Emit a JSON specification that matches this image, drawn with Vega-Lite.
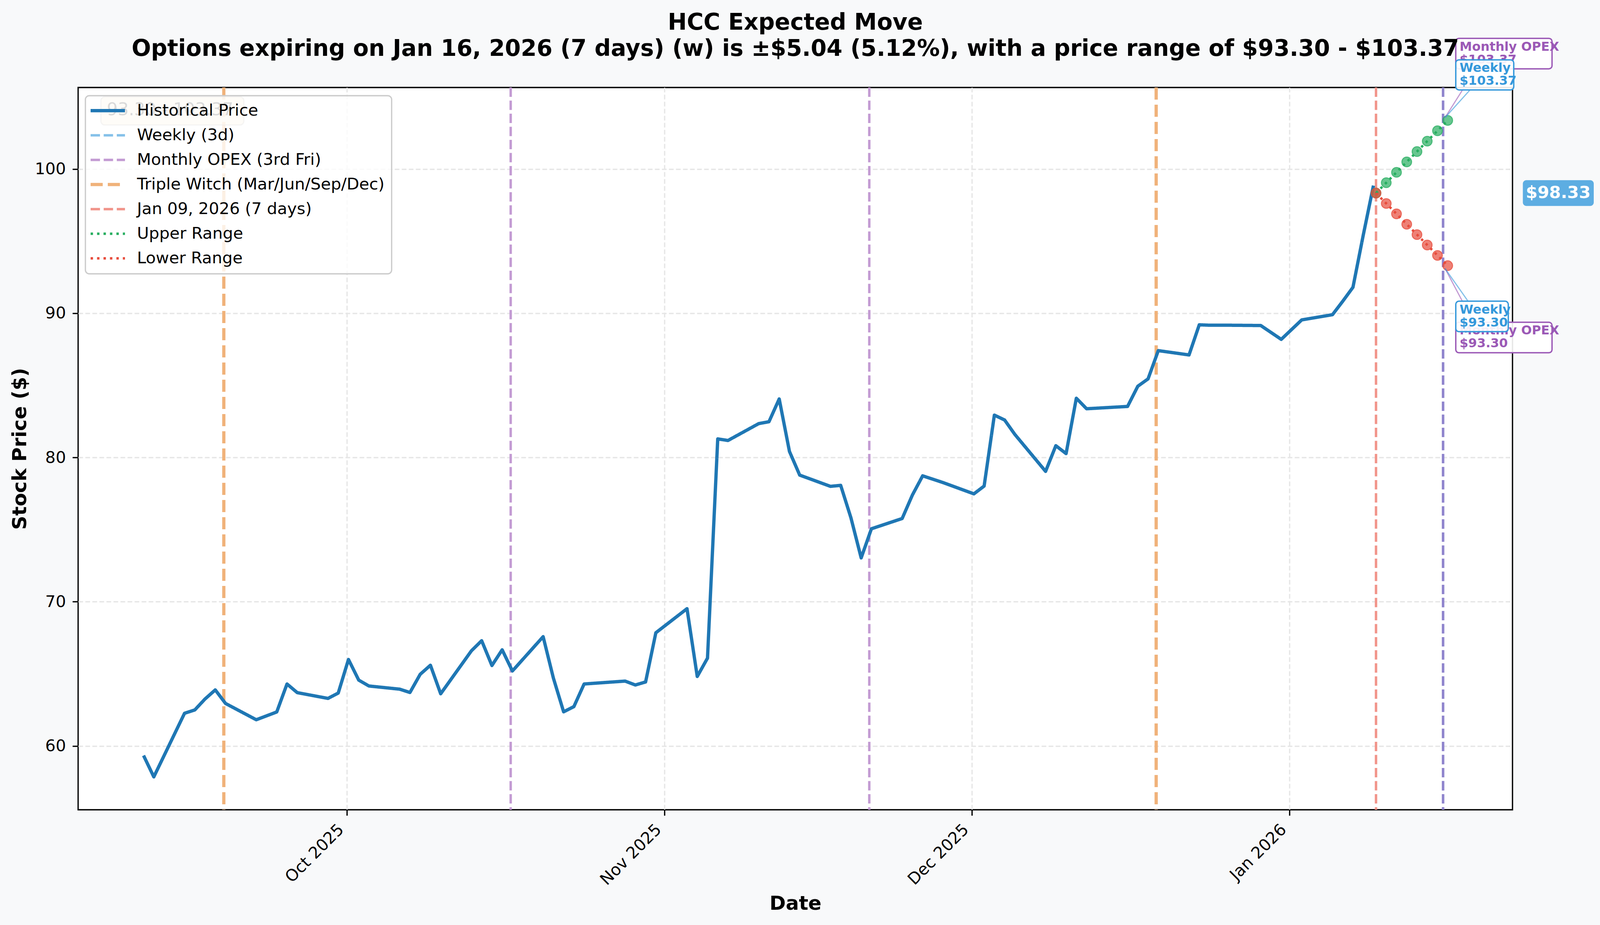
{
  "$schema": "https://vega.github.io/schema/vega-lite/v6.json",
  "width": 3672,
  "height": 1849,
  "autosize": {"type": "none"},
  "padding": {"left": 200, "top": 224, "right": 301, "bottom": 295},
  "background": "#f8f9fa",
  "title": {
    "text": [
      "HCC Expected Move",
      "Options expiring on Jan 16, 2026 (7 days) (w) is ±$5.04 (5.12%), with a price range of $93.30 - $103.37"
    ],
    "font": "DejaVu Sans",
    "fontSize": 58.3,
    "fontWeight": "bold",
    "color": "black",
    "anchor": "middle",
    "frame": "group",
    "lineHeight": 67,
    "baseline": "alphabetic",
    "offset": -105
  },
  "config": {
    "font": "DejaVu Sans",
    "view": {"fill": "white", "stroke": "black", "strokeWidth": 3.3},
    "axis": {
      "labelFont": "DejaVu Sans",
      "labelFontSize": 41.7,
      "labelColor": "black",
      "labelLimit": 1000,
      "tickSize": 14.6,
      "tickWidth": 3.3,
      "tickColor": "black",
      "domain": false,
      "grid": true,
      "gridDash": [12, 6],
      "gridColor": "#e6e6e6",
      "gridWidth": 3.3,
      "titleFont": "DejaVu Sans",
      "titleFontSize": 50,
      "titleFontWeight": "bold",
      "titleColor": "black",
      "labelFlush": false,
      "labelOverlap": false
    },
    "legend": {
      "orient": "none",
      "legendX": 18.6,
      "legendY": 21,
      "fillColor": "rgba(255,255,255,0.8)",
      "strokeColor": "#cccccc",
      "strokeWidth": 3.3,
      "cornerRadius": 10,
      "padding": 17.5,
      "symbolType": "M-2,0H2",
      "symbolSize": 1936,
      "symbolStrokeWidth": 6.2,
      "symbolOffset": 19,
      "symbolOpacity": 1,
      "symbolFillColor": "transparent",
      "labelFont": "DejaVu Sans",
      "labelFontSize": 41.7,
      "labelColor": "black",
      "labelOffset": 54,
      "labelLimit": 2000,
      "rowPadding": 20
    }
  },
  "datasets": {
    "prices": [
      {"date": "2025-09-11T04:00:00Z", "price": 59.34},
      {"date": "2025-09-12T04:00:00Z", "price": 57.86},
      {"date": "2025-09-15T04:00:00Z", "price": 62.27},
      {"date": "2025-09-16T04:00:00Z", "price": 62.5},
      {"date": "2025-09-17T04:00:00Z", "price": 63.26},
      {"date": "2025-09-18T04:00:00Z", "price": 63.89},
      {"date": "2025-09-19T04:00:00Z", "price": 62.95},
      {"date": "2025-09-22T04:00:00Z", "price": 61.82},
      {"date": "2025-09-23T04:00:00Z", "price": 62.09},
      {"date": "2025-09-24T04:00:00Z", "price": 62.36},
      {"date": "2025-09-25T04:00:00Z", "price": 64.3},
      {"date": "2025-09-26T04:00:00Z", "price": 63.7},
      {"date": "2025-09-29T04:00:00Z", "price": 63.3},
      {"date": "2025-09-30T04:00:00Z", "price": 63.67},
      {"date": "2025-10-01T04:00:00Z", "price": 66.0},
      {"date": "2025-10-02T04:00:00Z", "price": 64.57},
      {"date": "2025-10-03T04:00:00Z", "price": 64.16},
      {"date": "2025-10-06T04:00:00Z", "price": 63.94},
      {"date": "2025-10-07T04:00:00Z", "price": 63.71},
      {"date": "2025-10-08T04:00:00Z", "price": 64.97},
      {"date": "2025-10-09T04:00:00Z", "price": 65.6},
      {"date": "2025-10-10T04:00:00Z", "price": 63.62},
      {"date": "2025-10-13T04:00:00Z", "price": 66.6},
      {"date": "2025-10-14T04:00:00Z", "price": 67.3},
      {"date": "2025-10-15T04:00:00Z", "price": 65.58},
      {"date": "2025-10-16T04:00:00Z", "price": 66.67},
      {"date": "2025-10-17T04:00:00Z", "price": 65.2},
      {"date": "2025-10-20T04:00:00Z", "price": 67.58},
      {"date": "2025-10-21T04:00:00Z", "price": 64.71},
      {"date": "2025-10-22T04:00:00Z", "price": 62.37},
      {"date": "2025-10-23T04:00:00Z", "price": 62.73},
      {"date": "2025-10-24T04:00:00Z", "price": 64.3},
      {"date": "2025-10-28T04:00:00Z", "price": 64.5},
      {"date": "2025-10-29T04:00:00Z", "price": 64.23},
      {"date": "2025-10-30T04:00:00Z", "price": 64.44},
      {"date": "2025-10-31T04:00:00Z", "price": 67.85},
      {"date": "2025-11-03T05:00:00Z", "price": 69.52},
      {"date": "2025-11-04T05:00:00Z", "price": 64.82},
      {"date": "2025-11-05T05:00:00Z", "price": 66.09},
      {"date": "2025-11-06T05:00:00Z", "price": 81.29},
      {"date": "2025-11-07T05:00:00Z", "price": 81.18},
      {"date": "2025-11-10T05:00:00Z", "price": 82.35},
      {"date": "2025-11-11T05:00:00Z", "price": 82.48},
      {"date": "2025-11-12T05:00:00Z", "price": 84.06},
      {"date": "2025-11-13T05:00:00Z", "price": 80.42},
      {"date": "2025-11-14T05:00:00Z", "price": 78.78},
      {"date": "2025-11-17T05:00:00Z", "price": 78.0},
      {"date": "2025-11-18T05:00:00Z", "price": 78.07},
      {"date": "2025-11-19T05:00:00Z", "price": 75.82},
      {"date": "2025-11-20T05:00:00Z", "price": 73.04},
      {"date": "2025-11-21T05:00:00Z", "price": 75.06},
      {"date": "2025-11-24T05:00:00Z", "price": 75.77},
      {"date": "2025-11-25T05:00:00Z", "price": 77.4},
      {"date": "2025-11-26T05:00:00Z", "price": 78.73},
      {"date": "2025-11-28T05:00:00Z", "price": 78.26},
      {"date": "2025-12-01T05:00:00Z", "price": 77.48},
      {"date": "2025-12-02T05:00:00Z", "price": 78.02},
      {"date": "2025-12-03T05:00:00Z", "price": 82.94},
      {"date": "2025-12-04T05:00:00Z", "price": 82.6},
      {"date": "2025-12-05T05:00:00Z", "price": 81.6},
      {"date": "2025-12-08T05:00:00Z", "price": 79.04},
      {"date": "2025-12-09T05:00:00Z", "price": 80.82},
      {"date": "2025-12-10T05:00:00Z", "price": 80.27},
      {"date": "2025-12-11T05:00:00Z", "price": 84.11},
      {"date": "2025-12-12T05:00:00Z", "price": 83.38},
      {"date": "2025-12-16T05:00:00Z", "price": 83.54},
      {"date": "2025-12-17T05:00:00Z", "price": 84.94},
      {"date": "2025-12-18T05:00:00Z", "price": 85.45},
      {"date": "2025-12-19T05:00:00Z", "price": 87.41},
      {"date": "2025-12-22T05:00:00Z", "price": 87.11},
      {"date": "2025-12-23T05:00:00Z", "price": 89.2},
      {"date": "2025-12-24T05:00:00Z", "price": 89.17},
      {"date": "2025-12-26T05:00:00Z", "price": 89.17},
      {"date": "2025-12-29T05:00:00Z", "price": 89.15},
      {"date": "2025-12-31T05:00:00Z", "price": 88.19},
      {"date": "2026-01-02T05:00:00Z", "price": 89.54},
      {"date": "2026-01-05T05:00:00Z", "price": 89.9},
      {"date": "2026-01-06T05:00:00Z", "price": 90.83},
      {"date": "2026-01-07T05:00:00Z", "price": 91.8},
      {"date": "2026-01-08T05:00:00Z", "price": 95.4},
      {"date": "2026-01-09T05:00:00Z", "price": 98.85}
    ],
    "events": [
      {"date": "2025-09-19T00:00:00Z", "series": "Triple Witch (Mar/Jun/Sep/Dec)"},
      {"date": "2025-10-17T00:00:00Z", "series": "Monthly OPEX (3rd Fri)"},
      {"date": "2025-11-21T00:00:00Z", "series": "Monthly OPEX (3rd Fri)"},
      {"date": "2025-12-19T00:00:00Z", "series": "Triple Witch (Mar/Jun/Sep/Dec)"},
      {"date": "2026-01-09T11:00:00Z", "series": "Jan 09, 2026 (7 days)"},
      {"date": "2026-01-16T00:00:00Z", "series": "Weekly (3d)"},
      {"date": "2026-01-16T00:00:00Z", "series": "Monthly OPEX (3rd Fri)"}
    ],
    "range": [
      {"date": "2026-01-09T11:00:00Z", "price": 98.33, "series": "Upper Range"},
      {"date": "2026-01-10T11:00:00Z", "price": 99.05, "series": "Upper Range"},
      {"date": "2026-01-11T11:00:00Z", "price": 99.77, "series": "Upper Range"},
      {"date": "2026-01-12T11:00:00Z", "price": 100.49, "series": "Upper Range"},
      {"date": "2026-01-13T11:00:00Z", "price": 101.21, "series": "Upper Range"},
      {"date": "2026-01-14T11:00:00Z", "price": 101.93, "series": "Upper Range"},
      {"date": "2026-01-15T11:00:00Z", "price": 102.65, "series": "Upper Range"},
      {"date": "2026-01-16T11:00:00Z", "price": 103.37, "series": "Upper Range"},
      {"date": "2026-01-09T11:00:00Z", "price": 98.33, "series": "Lower Range"},
      {"date": "2026-01-10T11:00:00Z", "price": 97.61, "series": "Lower Range"},
      {"date": "2026-01-11T11:00:00Z", "price": 96.89, "series": "Lower Range"},
      {"date": "2026-01-12T11:00:00Z", "price": 96.17, "series": "Lower Range"},
      {"date": "2026-01-13T11:00:00Z", "price": 95.45, "series": "Lower Range"},
      {"date": "2026-01-14T11:00:00Z", "price": 94.73, "series": "Lower Range"},
      {"date": "2026-01-15T11:00:00Z", "price": 94.01, "series": "Lower Range"},
      {"date": "2026-01-16T11:00:00Z", "price": 93.3, "series": "Lower Range"}
    ],
    "notes": [
      {"date": "2026-01-16T11:00:00Z", "price": 103.37, "kind": "Monthly OPEX", "side": "upper", "label": "Monthly OPEX\n$103.37"},
      {"date": "2026-01-16T11:00:00Z", "price": 103.37, "kind": "Weekly", "side": "upper", "label": "Weekly\n$103.37"},
      {"date": "2026-01-16T11:00:00Z", "price": 93.3, "kind": "Monthly OPEX", "side": "lower", "label": "Monthly OPEX\n$93.30"},
      {"date": "2026-01-16T11:00:00Z", "price": 93.3, "kind": "Weekly", "side": "lower", "label": "Weekly\n$93.30"}
    ]
  },
  "layer": [
    {
      "data": {"name": "events"},
      "mark": {"type": "rule"},
      "encoding": {
        "x": {"field": "date", "type": "temporal"},
        "color": {
          "field": "series",
          "type": "nominal",
          "scale": {
            "domain": ["Historical Price", "Weekly (3d)", "Monthly OPEX (3rd Fri)", "Triple Witch (Mar/Jun/Sep/Dec)", "Jan 09, 2026 (7 days)", "Upper Range", "Lower Range"],
            "range": ["#1f77b4", "#85c1e9", "#c39bd3", "#f0b27a", "#f1948a", "#27ae60", "#e74c3c"]
          },
          "legend": {
            "title": null,
            "encode": {
              "symbols": {
                "update": {
                  "strokeWidth": {"signal": "datum.value === 'Historical Price' ? 8.5 : datum.value === 'Triple Witch (Mar/Jun/Sep/Dec)' ? 8.3 : 6.2"}
                }
              }
            }
          }
        },
        "strokeDash": {
          "field": "series",
          "type": "nominal",
          "scale": {
            "domain": ["Historical Price", "Weekly (3d)", "Monthly OPEX (3rd Fri)", "Triple Witch (Mar/Jun/Sep/Dec)", "Jan 09, 2026 (7 days)", "Upper Range", "Lower Range"],
            "range": [[1, 0], [24, 9.5], [24, 9.5], [31, 13], [24, 9.5], [6.2, 10.3], [6.2, 10.3]]
          },
          "legend": {
            "title": null,
            "encode": {
              "symbols": {
                "update": {
                  "strokeWidth": {"signal": "datum.value === 'Historical Price' ? 8.5 : datum.value === 'Triple Witch (Mar/Jun/Sep/Dec)' ? 8.3 : 6.2"}
                }
              }
            }
          }
        },
        "strokeWidth": {
          "condition": {"test": "datum.series === 'Triple Witch (Mar/Jun/Sep/Dec)'", "value": 8.3},
          "value": 6.2
        }
      }
    },
    {
      "data": {"name": "events"},
      "transform": [{"filter": "datum.series === 'Weekly (3d)'"}],
      "mark": {"type": "rule", "color": "#9085cd", "strokeWidth": 6.2, "strokeDash": [24, 9.5]},
      "encoding": {
        "x": {"field": "date", "type": "temporal"}
      }
    },
    {
      "mark": {"type": "rule", "color": "#687585", "strokeWidth": 6.3, "strokeDash": [22, 10.5]},
      "encoding": {
        "y": {"datum": 98.33, "type": "quantitative"}
      }
    },
    {
      "data": {"name": "prices"},
      "mark": {"type": "line", "strokeWidth": 8.5, "strokeJoin": "round"},
      "encoding": {
        "x": {
          "field": "date",
          "type": "temporal",
          "title": "Date",
          "scale": {
            "type": "utc",
            "domain": [
              {"year": 2025, "month": 9, "date": 4, "hours": 18, "minutes": 43, "utc": true},
              {"year": 2026, "month": 1, "date": 22, "hours": 18, "minutes": 43, "utc": true}
            ]
          },
          "axis": {
            "values": [
              {"year": 2025, "month": 10, "date": 1, "utc": true},
              {"year": 2025, "month": 11, "date": 1, "utc": true},
              {"year": 2025, "month": 12, "date": 1, "utc": true},
              {"year": 2026, "month": 1, "date": 1, "utc": true}
            ],
            "labelExpr": "utcFormat(datum.value, '%b %Y')",
            "labelAngle": -45,
            "labelAlign": "right",
            "labelBaseline": "middle",
            "labelPadding": 29,
            "labelOffset": -15,
            "titleY": 255,
            "titleBaseline": "alphabetic"
          }
        },
        "y": {
          "field": "price",
          "type": "quantitative",
          "title": "Stock Price ($)",
          "scale": {"domain": [55.58, 105.65], "nice": false, "zero": false},
          "axis": {
            "values": [60, 70, 80, 90, 100],
            "labelPadding": 17,
            "titleX": -133.5,
            "titleBaseline": "alphabetic"
          }
        },
        "color": {"datum": "Historical Price", "type": "nominal"},
        "strokeDash": {"datum": "Historical Price", "type": "nominal"}
      }
    },
    {
      "data": {"name": "range"},
      "mark": {"type": "point", "filled": true, "size": 620, "fillOpacity": 0.7, "strokeOpacity": 0.75, "strokeWidth": 2.5},
      "encoding": {
        "x": {"field": "date", "type": "temporal"},
        "y": {"field": "price", "type": "quantitative"},
        "color": {
          "condition": {"test": "datum.series === 'Upper Range'", "value": "#27ae60"},
          "value": "#e74c3c"
        },
        "stroke": {
          "condition": {"test": "datum.series === 'Upper Range'", "value": "#27ae60"},
          "value": "#e74c3c"
        }
      }
    },
    {
      "data": {"name": "range"},
      "mark": {"type": "line", "strokeWidth": 6.2},
      "encoding": {
        "x": {"field": "date", "type": "temporal"},
        "y": {"field": "price", "type": "quantitative"},
        "color": {"field": "series", "type": "nominal"},
        "strokeDash": {"field": "series", "type": "nominal"}
      }
    },
    {
      "data": {"name": "notes"},
      "transform": [{"filter": "datum.side === 'upper' && datum.kind === 'Monthly OPEX'"}],
      "mark": {"type": "rule", "color": "#9b59b6", "opacity": 0.6, "strokeWidth": 3, "xOffset": -7, "yOffset": -7, "x2Offset": 72, "y2Offset": -132},
      "encoding": {
        "x": {"field": "date", "type": "temporal"},
        "x2": {"field": "date"},
        "y": {"field": "price", "type": "quantitative"},
        "y2": {"field": "price"}
      }
    },
    {
      "data": {"name": "notes"},
      "transform": [{"filter": "datum.side === 'upper' && datum.kind === 'Weekly'"}],
      "mark": {"type": "rule", "color": "#3498db", "opacity": 0.6, "strokeWidth": 3, "xOffset": -7, "yOffset": -7, "x2Offset": 57, "y2Offset": -78},
      "encoding": {
        "x": {"field": "date", "type": "temporal"},
        "x2": {"field": "date"},
        "y": {"field": "price", "type": "quantitative"},
        "y2": {"field": "price"}
      }
    },
    {
      "data": {"name": "notes"},
      "transform": [{"filter": "datum.side === 'lower' && datum.kind === 'Monthly OPEX'"}],
      "mark": {"type": "rule", "color": "#9b59b6", "opacity": 0.6, "strokeWidth": 3, "xOffset": -7, "yOffset": 7, "x2Offset": 66, "y2Offset": 145},
      "encoding": {
        "x": {"field": "date", "type": "temporal"},
        "x2": {"field": "date"},
        "y": {"field": "price", "type": "quantitative"},
        "y2": {"field": "price"}
      }
    },
    {
      "data": {"name": "notes"},
      "transform": [{"filter": "datum.side === 'lower' && datum.kind === 'Weekly'"}],
      "mark": {"type": "rule", "color": "#3498db", "opacity": 0.6, "strokeWidth": 3, "xOffset": -7, "yOffset": 7, "x2Offset": 52, "y2Offset": 91},
      "encoding": {
        "x": {"field": "date", "type": "temporal"},
        "x2": {"field": "date"},
        "y": {"field": "price", "type": "quantitative"},
        "y2": {"field": "price"}
      }
    },
    {
      "data": {"name": "notes"},
      "transform": [{"filter": "datum.side === 'upper' && datum.kind === 'Monthly OPEX'"}],
      "mark": {"type": "rect", "fill": "white", "fillOpacity": 0.9, "stroke": "#9b59b6", "strokeWidth": 3.5, "cornerRadius": 8, "xOffset": 20.6, "x2Offset": 267, "yOffset": -210, "y2Offset": -132},
      "encoding": {
        "x": {"field": "date", "type": "temporal"},
        "x2": {"field": "date"},
        "y": {"field": "price", "type": "quantitative"},
        "y2": {"field": "price"}
      }
    },
    {
      "data": {"name": "notes"},
      "transform": [{"filter": "datum.side === 'upper' && datum.kind === 'Monthly OPEX'"}],
      "mark": {"type": "text", "align": "left", "baseline": "middle", "font": "DejaVu Sans", "fontWeight": "bold", "fontSize": 32, "lineHeight": 33, "lineBreak": "\n", "color": "#9b59b6", "dx": 30.4, "dy": -188},
      "encoding": {
        "x": {"field": "date", "type": "temporal"},
        "y": {"field": "price", "type": "quantitative"},
        "text": {"field": "label"}
      }
    },
    {
      "data": {"name": "notes"},
      "transform": [{"filter": "datum.side === 'upper' && datum.kind === 'Weekly'"}],
      "mark": {"type": "rect", "fill": "white", "fillOpacity": 0.9, "stroke": "#3498db", "strokeWidth": 3.5, "cornerRadius": 8, "xOffset": 20.6, "x2Offset": 169, "yOffset": -155, "y2Offset": -78},
      "encoding": {
        "x": {"field": "date", "type": "temporal"},
        "x2": {"field": "date"},
        "y": {"field": "price", "type": "quantitative"},
        "y2": {"field": "price"}
      }
    },
    {
      "data": {"name": "notes"},
      "transform": [{"filter": "datum.side === 'upper' && datum.kind === 'Weekly'"}],
      "mark": {"type": "text", "align": "left", "baseline": "middle", "font": "DejaVu Sans", "fontWeight": "bold", "fontSize": 32, "lineHeight": 33, "lineBreak": "\n", "color": "#3498db", "dx": 30.4, "dy": -134},
      "encoding": {
        "x": {"field": "date", "type": "temporal"},
        "y": {"field": "price", "type": "quantitative"},
        "text": {"field": "label"}
      }
    },
    {
      "data": {"name": "notes"},
      "transform": [{"filter": "datum.side === 'lower' && datum.kind === 'Monthly OPEX'"}],
      "mark": {"type": "rect", "fill": "white", "fillOpacity": 0.9, "stroke": "#9b59b6", "strokeWidth": 3.5, "cornerRadius": 8, "xOffset": 20.6, "x2Offset": 267, "yOffset": 145, "y2Offset": 223},
      "encoding": {
        "x": {"field": "date", "type": "temporal"},
        "x2": {"field": "date"},
        "y": {"field": "price", "type": "quantitative"},
        "y2": {"field": "price"}
      }
    },
    {
      "data": {"name": "notes"},
      "transform": [{"filter": "datum.side === 'lower' && datum.kind === 'Monthly OPEX'"}],
      "mark": {"type": "text", "align": "left", "baseline": "middle", "font": "DejaVu Sans", "fontWeight": "bold", "fontSize": 32, "lineHeight": 33, "lineBreak": "\n", "color": "#9b59b6", "dx": 30.4, "dy": 165.5},
      "encoding": {
        "x": {"field": "date", "type": "temporal"},
        "y": {"field": "price", "type": "quantitative"},
        "text": {"field": "label"}
      }
    },
    {
      "data": {"name": "notes"},
      "transform": [{"filter": "datum.side === 'lower' && datum.kind === 'Weekly'"}],
      "mark": {"type": "rect", "fill": "white", "fillOpacity": 0.9, "stroke": "#3498db", "strokeWidth": 3.5, "cornerRadius": 8, "xOffset": 20.6, "x2Offset": 155, "yOffset": 91, "y2Offset": 169},
      "encoding": {
        "x": {"field": "date", "type": "temporal"},
        "x2": {"field": "date"},
        "y": {"field": "price", "type": "quantitative"},
        "y2": {"field": "price"}
      }
    },
    {
      "data": {"name": "notes"},
      "transform": [{"filter": "datum.side === 'lower' && datum.kind === 'Weekly'"}],
      "mark": {"type": "text", "align": "left", "baseline": "middle", "font": "DejaVu Sans", "fontWeight": "bold", "fontSize": 32, "lineHeight": 33, "lineBreak": "\n", "color": "#3498db", "dx": 30.4, "dy": 112.5},
      "encoding": {
        "x": {"field": "date", "type": "temporal"},
        "y": {"field": "price", "type": "quantitative"},
        "text": {"field": "label"}
      }
    },
    {
      "data": {"values": [{"label": "93.30 - 103.37"}]},
      "mark": {"type": "rect", "fill": "#f5deb3", "fillOpacity": 0.5, "stroke": "#999999", "strokeOpacity": 0.5, "strokeWidth": 3, "cornerRadius": 10},
      "encoding": {
        "x": {"datum": {"year": 2025, "month": 9, "date": 7, "utc": true}, "type": "temporal"},
        "x2": {"datum": {"year": 2025, "month": 9, "date": 20, "hours": 23, "utc": true}},
        "y": {"datum": 105.0, "type": "quantitative"},
        "y2": {"datum": 103.05}
      }
    },
    {
      "data": {"values": [{"label": "93.30 - 103.37"}]},
      "mark": {"type": "text", "align": "left", "baseline": "alphabetic", "font": "DejaVu Sans", "fontSize": 44, "color": "#444444"},
      "encoding": {
        "x": {"datum": {"year": 2025, "month": 9, "date": 7, "hours": 14, "utc": true}, "type": "temporal"},
        "y": {"datum": 103.73, "type": "quantitative"},
        "text": {"field": "label"}
      }
    },
    {
      "data": {"values": [{"label": "$98.33"}]},
      "mark": {"type": "rect", "fill": "#5dade2", "cornerRadius": 9, "xOffset": 26.5, "x2Offset": 208, "yOffset": -33, "y2Offset": 33},
      "encoding": {
        "x": {"value": "width"},
        "x2": {"value": "width"},
        "y": {"datum": 98.33, "type": "quantitative"},
        "y2": {"datum": 98.33}
      }
    },
    {
      "data": {"values": [{"label": "$98.33"}]},
      "mark": {"type": "text", "align": "center", "baseline": "middle", "font": "DejaVu Sans", "fontWeight": "bold", "fontSize": 43, "color": "white", "dx": 117},
      "encoding": {
        "x": {"value": "width"},
        "y": {"datum": 98.33, "type": "quantitative"},
        "text": {"field": "label"}
      }
    }
  ]
}
